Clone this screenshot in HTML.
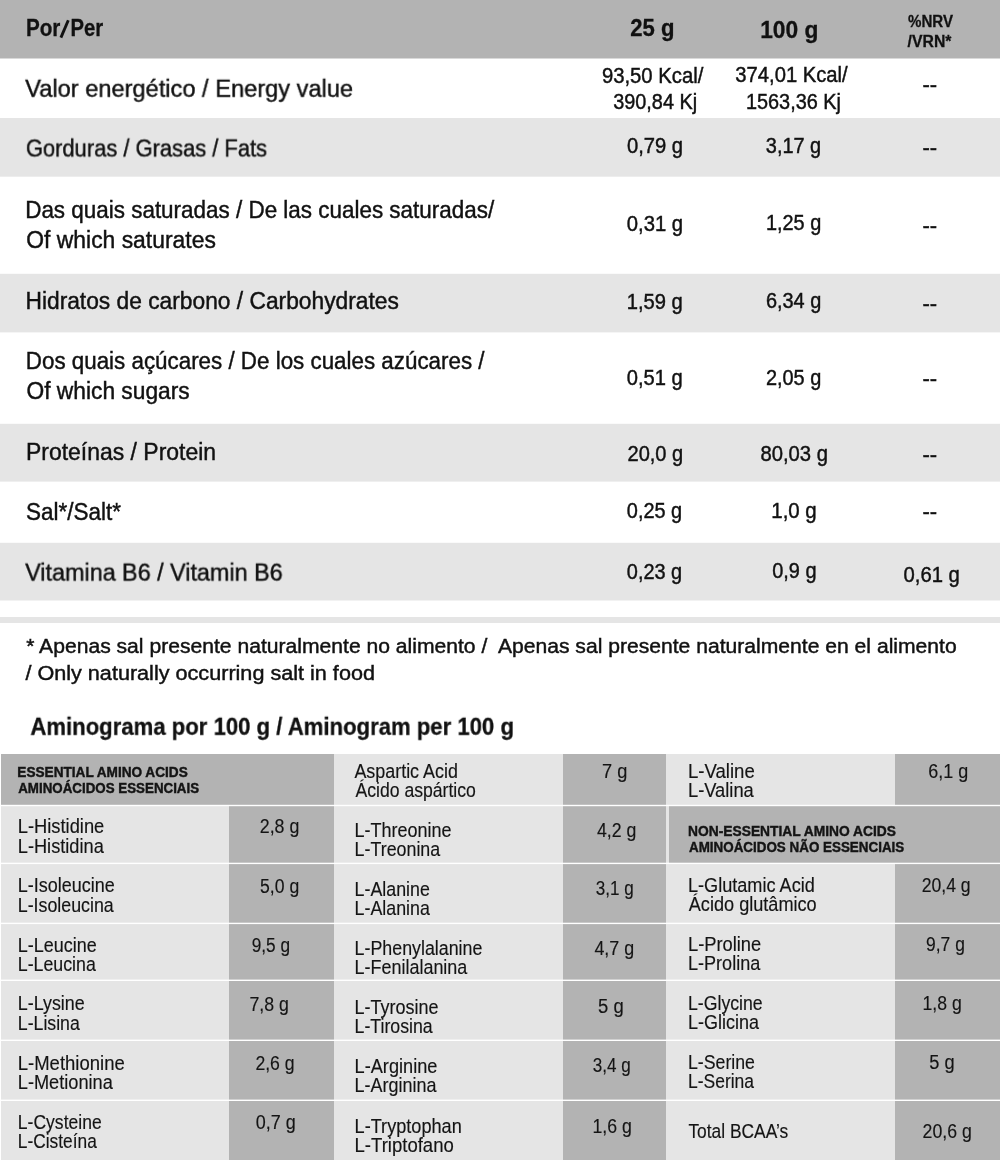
<!DOCTYPE html>
<html><head><meta charset="utf-8"><style>
html,body{margin:0;padding:0;background:#fff;width:1000px;height:1160px;overflow:hidden}
svg{display:block;will-change:transform}
text{font-family:"Liberation Sans",sans-serif;white-space:pre}
</style></head><body>
<svg width="1000" height="1160" viewBox="0 0 1000 1160">
<rect x="0" y="0" width="1000" height="58.5" fill="#b3b3b3"/>
<rect x="0" y="118" width="1000" height="58.69999999999999" fill="#e5e5e5"/>
<rect x="0" y="273.8" width="1000" height="58.599999999999966" fill="#e5e5e5"/>
<rect x="0" y="423.8" width="1000" height="57.80000000000001" fill="#e5e5e5"/>
<rect x="0" y="542.8" width="1000" height="57.700000000000045" fill="#e5e5e5"/>
<rect x="0" y="617" width="1000" height="6" fill="#e5e5e5"/>
<rect x="1" y="754" width="333" height="50.799999999999955" fill="#b3b3b3"/>
<rect x="1" y="806.2" width="228" height="56.499999999999886" fill="#e5e5e5"/>
<rect x="229" y="806.2" width="105" height="56.499999999999886" fill="#b3b3b3"/>
<rect x="1" y="864.1" width="228" height="58.59999999999991" fill="#e5e5e5"/>
<rect x="229" y="864.1" width="105" height="58.59999999999991" fill="#b3b3b3"/>
<rect x="1" y="924.1" width="228" height="55.499999999999886" fill="#e5e5e5"/>
<rect x="229" y="924.1" width="105" height="55.499999999999886" fill="#b3b3b3"/>
<rect x="1" y="981.0" width="228" height="58.59999999999991" fill="#e5e5e5"/>
<rect x="229" y="981.0" width="105" height="58.59999999999991" fill="#b3b3b3"/>
<rect x="1" y="1041.0" width="228" height="58.59999999999991" fill="#e5e5e5"/>
<rect x="229" y="1041.0" width="105" height="58.59999999999991" fill="#b3b3b3"/>
<rect x="1" y="1101.0" width="228" height="59.0" fill="#e5e5e5"/>
<rect x="229" y="1101.0" width="105" height="59.0" fill="#b3b3b3"/>
<rect x="334" y="754" width="229" height="50.799999999999955" fill="#e5e5e5"/>
<rect x="563" y="754" width="103" height="50.799999999999955" fill="#b3b3b3"/>
<rect x="334" y="806.2" width="229" height="56.499999999999886" fill="#e5e5e5"/>
<rect x="563" y="806.2" width="103" height="56.499999999999886" fill="#b3b3b3"/>
<rect x="334" y="864.1" width="229" height="58.59999999999991" fill="#e5e5e5"/>
<rect x="563" y="864.1" width="103" height="58.59999999999991" fill="#b3b3b3"/>
<rect x="334" y="924.1" width="229" height="55.499999999999886" fill="#e5e5e5"/>
<rect x="563" y="924.1" width="103" height="55.499999999999886" fill="#b3b3b3"/>
<rect x="334" y="981.0" width="229" height="58.59999999999991" fill="#e5e5e5"/>
<rect x="563" y="981.0" width="103" height="58.59999999999991" fill="#b3b3b3"/>
<rect x="334" y="1041.0" width="229" height="58.59999999999991" fill="#e5e5e5"/>
<rect x="563" y="1041.0" width="103" height="58.59999999999991" fill="#b3b3b3"/>
<rect x="334" y="1101.0" width="229" height="59.0" fill="#e5e5e5"/>
<rect x="563" y="1101.0" width="103" height="59.0" fill="#b3b3b3"/>
<rect x="666" y="754" width="229" height="50.799999999999955" fill="#e5e5e5"/>
<rect x="895" y="754" width="105" height="50.799999999999955" fill="#b3b3b3"/>
<rect x="666" y="806.2" width="3" height="56.499999999999886" fill="#e5e5e5"/>
<rect x="669" y="806.2" width="331" height="56.499999999999886" fill="#b3b3b3"/>
<rect x="666" y="864.1" width="229" height="58.59999999999991" fill="#e5e5e5"/>
<rect x="895" y="864.1" width="105" height="58.59999999999991" fill="#b3b3b3"/>
<rect x="666" y="924.1" width="229" height="55.499999999999886" fill="#e5e5e5"/>
<rect x="895" y="924.1" width="105" height="55.499999999999886" fill="#b3b3b3"/>
<rect x="666" y="981.0" width="229" height="58.59999999999991" fill="#e5e5e5"/>
<rect x="895" y="981.0" width="105" height="58.59999999999991" fill="#b3b3b3"/>
<rect x="666" y="1041.0" width="229" height="58.59999999999991" fill="#e5e5e5"/>
<rect x="895" y="1041.0" width="105" height="58.59999999999991" fill="#b3b3b3"/>
<rect x="666" y="1101.0" width="229" height="59.0" fill="#e5e5e5"/>
<rect x="895" y="1101.0" width="105" height="59.0" fill="#b3b3b3"/>
<text transform="translate(25.94 36.00) scale(0.8612 1)" font-size="24" font-weight="700" fill="#111" stroke="#111" stroke-width="0.3">Por</text>
<text transform="translate(70.55 36.00) scale(0.8459 1)" font-size="24" font-weight="700" fill="#111" stroke="#111" stroke-width="0.3">Per</text>
<text transform="translate(630.19 35.70) scale(0.9211 1)" font-size="24" font-weight="700" fill="#111" stroke="#111" stroke-width="0.3">25 g</text>
<text transform="translate(760.14 38.10) scale(0.9484 1)" font-size="24" font-weight="700" fill="#111" stroke="#111" stroke-width="0.3">100 g</text>
<text transform="translate(908.00 26.80) scale(0.8879 1)" font-size="17" font-weight="700" fill="#111" stroke="#111" stroke-width="0.3">%NRV</text>
<text transform="translate(907.60 47.40) scale(0.9284 1)" font-size="17" font-weight="700" fill="#111" stroke="#111" stroke-width="0.3">/VRN*</text>
<text transform="translate(25.20 96.80) scale(0.9530 1)" font-size="24.8" fill="#111" stroke="#111" stroke-width="0.45">Valor energético / Energy value</text>
<text transform="translate(25.92 156.50) scale(0.8841 1)" font-size="24.8" fill="#111" stroke="#111" stroke-width="0.45">Gorduras / Grasas / Fats</text>
<text transform="translate(25.19 217.90) scale(0.9052 1)" font-size="24.8" fill="#111" stroke="#111" stroke-width="0.45">Das quais saturadas / De las cuales saturadas/</text>
<text transform="translate(26.27 247.60) scale(0.9233 1)" font-size="24.8" fill="#111" stroke="#111" stroke-width="0.45">Of which saturates</text>
<text transform="translate(25.46 308.90) scale(0.9188 1)" font-size="24.8" fill="#111" stroke="#111" stroke-width="0.45">Hidratos de carbono / Carbohydrates</text>
<text transform="translate(25.79 369.00) scale(0.9023 1)" font-size="24.8" fill="#111" stroke="#111" stroke-width="0.45">Dos quais açúcares / De los cuales azúcares /</text>
<text transform="translate(26.48 398.70) scale(0.9185 1)" font-size="24.8" fill="#111" stroke="#111" stroke-width="0.45">Of which sugars</text>
<text transform="translate(26.05 459.50) scale(0.9256 1)" font-size="24.8" fill="#111" stroke="#111" stroke-width="0.45">Proteínas / Protein</text>
<text transform="translate(25.89 520.40) scale(0.9077 1)" font-size="24.8" fill="#111" stroke="#111" stroke-width="0.45">Sal*/Salt*</text>
<text transform="translate(25.20 580.60) scale(0.9421 1)" font-size="24.8" fill="#111" stroke="#111" stroke-width="0.45">Vitamina B6 / Vitamin B6</text>
<text transform="translate(601.88 82.60) scale(0.9222 1)" font-size="22" fill="#111" stroke="#111" stroke-width="0.45">93,50 Kcal/</text>
<text transform="translate(613.19 109.00) scale(0.9039 1)" font-size="22" fill="#111" stroke="#111" stroke-width="0.45">390,84 Kj</text>
<text transform="translate(735.29 82.40) scale(0.9198 1)" font-size="22" fill="#111" stroke="#111" stroke-width="0.45">374,01 Kcal/</text>
<text transform="translate(745.89 109.00) scale(0.9042 1)" font-size="22" fill="#111" stroke="#111" stroke-width="0.45">1563,36 Kj</text>
<text transform="translate(626.89 153.30) scale(0.9195 1)" font-size="22" fill="#111" stroke="#111" stroke-width="0.45">0,79 g</text>
<text transform="translate(765.80 152.80) scale(0.9061 1)" font-size="22" fill="#111" stroke="#111" stroke-width="0.45">3,17 g</text>
<text transform="translate(626.79 231.00) scale(0.9212 1)" font-size="22" fill="#111" stroke="#111" stroke-width="0.45">0,31 g</text>
<text transform="translate(765.89 230.30) scale(0.9047 1)" font-size="22" fill="#111" stroke="#111" stroke-width="0.45">1,25 g</text>
<text transform="translate(626.67 308.80) scale(0.9181 1)" font-size="22" fill="#111" stroke="#111" stroke-width="0.45">1,59 g</text>
<text transform="translate(765.89 308.00) scale(0.9047 1)" font-size="22" fill="#111" stroke="#111" stroke-width="0.45">6,34 g</text>
<text transform="translate(626.79 384.70) scale(0.9161 1)" font-size="22" fill="#111" stroke="#111" stroke-width="0.45">0,51 g</text>
<text transform="translate(765.89 385.30) scale(0.9062 1)" font-size="22" fill="#111" stroke="#111" stroke-width="0.45">2,05 g</text>
<text transform="translate(627.49 461.10) scale(0.9112 1)" font-size="22" fill="#111" stroke="#111" stroke-width="0.45">20,0 g</text>
<text transform="translate(760.40 461.00) scale(0.9202 1)" font-size="22" fill="#111" stroke="#111" stroke-width="0.45">80,03 g</text>
<text transform="translate(626.80 518.10) scale(0.9061 1)" font-size="22" fill="#111" stroke="#111" stroke-width="0.45">0,25 g</text>
<text transform="translate(771.26 518.40) scale(0.9297 1)" font-size="22" fill="#111" stroke="#111" stroke-width="0.45">1,0 g</text>
<text transform="translate(626.80 579.20) scale(0.9061 1)" font-size="22" fill="#111" stroke="#111" stroke-width="0.45">0,23 g</text>
<text transform="translate(772.20 578.40) scale(0.9059 1)" font-size="22" fill="#111" stroke="#111" stroke-width="0.45">0,9 g</text>
<text transform="translate(903.50 582.20) scale(0.9211 1)" font-size="22" fill="#111" stroke="#111" stroke-width="0.45">0,61 g</text>
<text transform="translate(922.54 91.60) scale(0.9997 1)" font-size="22" fill="#111" stroke="#111" stroke-width="0.45">--</text>
<text transform="translate(922.54 154.80) scale(0.9997 1)" font-size="22" fill="#111" stroke="#111" stroke-width="0.45">--</text>
<text transform="translate(922.54 232.70) scale(0.9997 1)" font-size="22" fill="#111" stroke="#111" stroke-width="0.45">--</text>
<text transform="translate(922.54 310.70) scale(0.9997 1)" font-size="22" fill="#111" stroke="#111" stroke-width="0.45">--</text>
<text transform="translate(922.54 385.90) scale(0.9997 1)" font-size="22" fill="#111" stroke="#111" stroke-width="0.45">--</text>
<text transform="translate(922.54 461.50) scale(0.9997 1)" font-size="22" fill="#111" stroke="#111" stroke-width="0.45">--</text>
<text transform="translate(922.54 519.10) scale(0.9997 1)" font-size="22" fill="#111" stroke="#111" stroke-width="0.45">--</text>
<text transform="translate(26.20 653.40) scale(1.0058 1)" font-size="21" fill="#111" stroke="#111" stroke-width="0.45">* Apenas sal presente naturalmente no alimento /  Apenas sal presente naturalmente en el alimento</text>
<text transform="translate(25.40 679.50) scale(1.0301 1)" font-size="21" fill="#111" stroke="#111" stroke-width="0.45">/ Only naturally occurring salt in food</text>
<text transform="translate(30.40 734.80) scale(0.9071 1)" font-size="24.4" font-weight="700" fill="#111" stroke="#111" stroke-width="0.3">Aminograma por 100 g / Aminogram per 100 g</text>
<text transform="translate(17.32 777.40) scale(0.8788 1)" font-size="15.5" font-weight="700" fill="#141414" stroke="#141414" stroke-width="0.45">ESSENTIAL AMINO ACIDS</text>
<text transform="translate(18.20 792.60) scale(0.8618 1)" font-size="15.5" font-weight="700" fill="#141414" stroke="#141414" stroke-width="0.45">AMINOÁCIDOS ESSENCIAIS</text>
<text transform="translate(688.11 836.40) scale(0.8908 1)" font-size="15.5" font-weight="700" fill="#141414" stroke="#141414" stroke-width="0.45">NON-ESSENTIAL AMINO ACIDS</text>
<text transform="translate(689.00 851.70) scale(0.8654 1)" font-size="15.5" font-weight="700" fill="#141414" stroke="#141414" stroke-width="0.45">AMINOÁCIDOS NÃO ESSENCIAIS</text>
<text transform="translate(17.76 833.00) scale(0.9405 1)" font-size="19.5" fill="#141414" stroke="#141414" stroke-width="0.15">L-Histidine</text>
<text transform="translate(17.77 852.60) scale(0.9345 1)" font-size="19.5" fill="#141414" stroke="#141414" stroke-width="0.15">L-Histidina</text>
<text transform="translate(17.78 892.40) scale(0.9226 1)" font-size="19.5" fill="#141414" stroke="#141414" stroke-width="0.15">L-Isoleucine</text>
<text transform="translate(17.79 911.90) scale(0.9137 1)" font-size="19.5" fill="#141414" stroke="#141414" stroke-width="0.15">L-Isoleucina</text>
<text transform="translate(17.78 951.70) scale(0.9224 1)" font-size="19.5" fill="#141414" stroke="#141414" stroke-width="0.15">L-Leucine</text>
<text transform="translate(17.79 970.50) scale(0.9116 1)" font-size="19.5" fill="#141414" stroke="#141414" stroke-width="0.15">L-Leucina</text>
<text transform="translate(17.78 1010.30) scale(0.9180 1)" font-size="19.5" fill="#141414" stroke="#141414" stroke-width="0.15">L-Lysine</text>
<text transform="translate(17.79 1029.70) scale(0.9089 1)" font-size="19.5" fill="#141414" stroke="#141414" stroke-width="0.15">L-Lisina</text>
<text transform="translate(17.75 1069.80) scale(0.9496 1)" font-size="19.5" fill="#141414" stroke="#141414" stroke-width="0.15">L-Methionine</text>
<text transform="translate(17.77 1088.60) scale(0.9333 1)" font-size="19.5" fill="#141414" stroke="#141414" stroke-width="0.15">L-Metionina</text>
<text transform="translate(17.80 1128.70) scale(0.9008 1)" font-size="19.5" fill="#141414" stroke="#141414" stroke-width="0.15">L-Cysteine</text>
<text transform="translate(17.81 1147.50) scale(0.8895 1)" font-size="19.5" fill="#141414" stroke="#141414" stroke-width="0.15">L-Cisteína</text>
<text transform="translate(259.78 833.20) scale(0.9131 1)" font-size="19.5" fill="#141414" stroke="#141414" stroke-width="0.15">2,8 g</text>
<text transform="translate(260.06 892.80) scale(0.9046 1)" font-size="19.5" fill="#141414" stroke="#141414" stroke-width="0.15">5,0 g</text>
<text transform="translate(251.67 951.80) scale(0.8849 1)" font-size="19.5" fill="#141414" stroke="#141414" stroke-width="0.15">9,5 g</text>
<text transform="translate(249.39 1010.90) scale(0.9105 1)" font-size="19.5" fill="#141414" stroke="#141414" stroke-width="0.15">7,8 g</text>
<text transform="translate(255.39 1070.20) scale(0.9058 1)" font-size="19.5" fill="#141414" stroke="#141414" stroke-width="0.15">2,6 g</text>
<text transform="translate(255.79 1129.00) scale(0.9221 1)" font-size="19.5" fill="#141414" stroke="#141414" stroke-width="0.15">0,7 g</text>
<text transform="translate(354.39 777.50) scale(0.9183 1)" font-size="19.5" fill="#141414" stroke="#141414" stroke-width="0.15">Aspartic Acid</text>
<text transform="translate(355.40 796.60) scale(0.9043 1)" font-size="19.5" fill="#141414" stroke="#141414" stroke-width="0.15">Ácido aspártico</text>
<text transform="translate(354.58 836.70) scale(0.9226 1)" font-size="19.5" fill="#141414" stroke="#141414" stroke-width="0.15">L-Threonine</text>
<text transform="translate(354.58 855.80) scale(0.9156 1)" font-size="19.5" fill="#141414" stroke="#141414" stroke-width="0.15">L-Treonina</text>
<text transform="translate(354.58 895.60) scale(0.9139 1)" font-size="19.5" fill="#141414" stroke="#141414" stroke-width="0.15">L-Alanine</text>
<text transform="translate(354.58 914.70) scale(0.9149 1)" font-size="19.5" fill="#141414" stroke="#141414" stroke-width="0.15">L-Alanina</text>
<text transform="translate(354.58 954.80) scale(0.9145 1)" font-size="19.5" fill="#141414" stroke="#141414" stroke-width="0.15">L-Phenylalanine</text>
<text transform="translate(354.57 973.60) scale(0.9208 1)" font-size="19.5" fill="#141414" stroke="#141414" stroke-width="0.15">L-Fenilalanina</text>
<text transform="translate(354.58 1014.00) scale(0.9228 1)" font-size="19.5" fill="#141414" stroke="#141414" stroke-width="0.15">L-Tyrosine</text>
<text transform="translate(354.59 1032.60) scale(0.9094 1)" font-size="19.5" fill="#141414" stroke="#141414" stroke-width="0.15">L-Tirosina</text>
<text transform="translate(354.56 1072.70) scale(0.9330 1)" font-size="19.5" fill="#141414" stroke="#141414" stroke-width="0.15">L-Arginine</text>
<text transform="translate(354.58 1091.90) scale(0.9224 1)" font-size="19.5" fill="#141414" stroke="#141414" stroke-width="0.15">L-Arginina</text>
<text transform="translate(354.57 1132.70) scale(0.9303 1)" font-size="19.5" fill="#141414" stroke="#141414" stroke-width="0.15">L-Tryptophan</text>
<text transform="translate(354.54 1151.70) scale(0.9512 1)" font-size="19.5" fill="#141414" stroke="#141414" stroke-width="0.15">L-Triptofano</text>
<text transform="translate(602.07 777.90) scale(0.9344 1)" font-size="19.5" fill="#141414" stroke="#141414" stroke-width="0.15">7 g</text>
<text transform="translate(597.00 836.60) scale(0.9078 1)" font-size="19.5" fill="#141414" stroke="#141414" stroke-width="0.15">4,2 g</text>
<text transform="translate(595.79 895.20) scale(0.8751 1)" font-size="19.5" fill="#141414" stroke="#141414" stroke-width="0.15">3,1 g</text>
<text transform="translate(594.39 954.70) scale(0.9177 1)" font-size="19.5" fill="#141414" stroke="#141414" stroke-width="0.15">4,7 g</text>
<text transform="translate(598.02 1013.30) scale(0.9479 1)" font-size="19.5" fill="#141414" stroke="#141414" stroke-width="0.15">5 g</text>
<text transform="translate(592.79 1072.30) scale(0.8751 1)" font-size="19.5" fill="#141414" stroke="#141414" stroke-width="0.15">3,4 g</text>
<text transform="translate(592.49 1133.00) scale(0.9084 1)" font-size="19.5" fill="#141414" stroke="#141414" stroke-width="0.15">1,6 g</text>
<text transform="translate(687.94 777.80) scale(0.9539 1)" font-size="19.5" fill="#141414" stroke="#141414" stroke-width="0.15">L-Valine</text>
<text transform="translate(687.95 796.90) scale(0.9401 1)" font-size="19.5" fill="#141414" stroke="#141414" stroke-width="0.15">L-Valina</text>
<text transform="translate(687.96 891.70) scale(0.9297 1)" font-size="19.5" fill="#141414" stroke="#141414" stroke-width="0.15">L-Glutamic Acid</text>
<text transform="translate(688.79 910.80) scale(0.9297 1)" font-size="19.5" fill="#141414" stroke="#141414" stroke-width="0.15">Ácido glutâmico</text>
<text transform="translate(687.95 950.90) scale(0.9399 1)" font-size="19.5" fill="#141414" stroke="#141414" stroke-width="0.15">L-Proline</text>
<text transform="translate(687.96 970.00) scale(0.9277 1)" font-size="19.5" fill="#141414" stroke="#141414" stroke-width="0.15">L-Prolina</text>
<text transform="translate(687.99 1009.90) scale(0.9068 1)" font-size="19.5" fill="#141414" stroke="#141414" stroke-width="0.15">L-Glycine</text>
<text transform="translate(687.97 1029.10) scale(0.9226 1)" font-size="19.5" fill="#141414" stroke="#141414" stroke-width="0.15">L-Glicina</text>
<text transform="translate(687.98 1068.80) scale(0.9089 1)" font-size="19.5" fill="#141414" stroke="#141414" stroke-width="0.15">L-Serine</text>
<text transform="translate(688.00 1087.70) scale(0.8964 1)" font-size="19.5" fill="#141414" stroke="#141414" stroke-width="0.15">L-Serina</text>
<text transform="translate(688.40 1138.00) scale(0.8920 1)" font-size="19.5" fill="#141414" stroke="#141414" stroke-width="0.15">Total BCAA’s</text>
<text transform="translate(928.28 778.10) scale(0.9227 1)" font-size="19.5" fill="#141414" stroke="#141414" stroke-width="0.15">6,1 g</text>
<text transform="translate(921.67 891.50) scale(0.9037 1)" font-size="19.5" fill="#141414" stroke="#141414" stroke-width="0.15">20,4 g</text>
<text transform="translate(926.09 950.90) scale(0.8942 1)" font-size="19.5" fill="#141414" stroke="#141414" stroke-width="0.15">9,7 g</text>
<text transform="translate(922.49 1010.00) scale(0.9055 1)" font-size="19.5" fill="#141414" stroke="#141414" stroke-width="0.15">1,8 g</text>
<text transform="translate(929.26 1068.90) scale(0.9359 1)" font-size="19.5" fill="#141414" stroke="#141414" stroke-width="0.15">5 g</text>
<text transform="translate(922.58 1137.90) scale(0.9095 1)" font-size="19.5" fill="#141414" stroke="#141414" stroke-width="0.15">20,6 g</text>
<line x1="60.9" y1="37.6" x2="68.3" y2="20.2" stroke="#111" stroke-width="2.9"/>
</svg>
</body></html>
